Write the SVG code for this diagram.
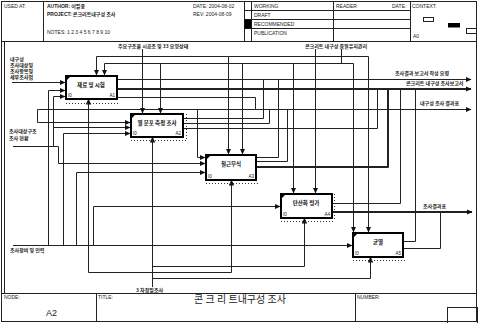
<svg xmlns="http://www.w3.org/2000/svg" width="478" height="323" viewBox="0 0 478 323">
<defs>
<marker id="ah" markerUnits="userSpaceOnUse" markerWidth="6" markerHeight="6" refX="5.5" refY="3" orient="auto"><path d="M0,0.3 L6,3 L0,5.7 z" fill="#111"/></marker>
<style>
.f{fill:none;stroke:#222;stroke-width:1}
.t{font-family:"Liberation Sans","Noto Sans CJK KR",sans-serif;font-size:5px;fill:#222}
.k{font-family:"Noto Sans CJK KR","Liberation Sans",sans-serif;font-size:5px;fill:#222;font-weight:bold}
.c{fill:none;stroke:#222;stroke-width:1;stroke-linejoin:round}
.th{stroke-width:2}
.a{marker-end:url(#ah)}
.box{fill:#fff;stroke:#000;stroke-width:2}
.bl{font-family:"Noto Sans CJK KR",sans-serif;font-size:5.5px;font-weight:bold;fill:#111;text-anchor:middle}
.nn{font-family:"Liberation Sans",sans-serif;font-size:4.5px;fill:#111}
.dot{fill:none;stroke:#333;stroke-width:1;stroke-dasharray:1 2}
</style>
</defs>
<rect width="478" height="323" fill="#fff"/>
<g id="frame">
<rect class="f" x="1.5" y="1.5" width="475" height="320"/>
<line class="f" x1="1" y1="41.5" x2="477" y2="41.5"/>
<line class="f" x1="43.5" y1="1" x2="43.5" y2="41.5"/>
<line class="f" x1="244.5" y1="1" x2="244.5" y2="41.5"/>
<line class="f" x1="251.5" y1="1" x2="251.5" y2="41.5"/>
<line class="f" x1="333.5" y1="1" x2="333.5" y2="41.5"/>
<line class="f" x1="410.5" y1="1" x2="410.5" y2="41.5"/>
<line class="f" x1="244" y1="10.5" x2="410" y2="10.5"/>
<line class="f" x1="244" y1="19.5" x2="410" y2="19.5"/>
<line class="f" x1="244" y1="28.5" x2="410" y2="28.5"/>
<rect x="244.5" y="19.5" width="7" height="9" fill="#000"/>
<text class="t" x="4" y="8">USED AT:</text>
<text class="k" x="47" y="8"><tspan class="t">AUTHOR:</tspan> 이필중</text>
<text class="k" x="47" y="16"><tspan class="t">PROJECT:</tspan> 콘크리트내구성 조사</text>
<text class="t" x="47" y="34">NOTES:  1  2  3  4  5  6  7  8  9  10</text>
<text class="t" x="193" y="8">DATE:  2004-08-02</text>
<text class="t" x="193" y="16">REV:    2004-08-09</text>
<text class="t" x="254" y="8">WORKING</text>
<text class="t" x="254" y="17">DRAFT</text>
<text class="t" x="254" y="26">RECOMMENDED</text>
<text class="t" x="254" y="35">PUBLICATION</text>
<text class="t" x="336" y="8">READER</text>
<text class="t" x="392" y="8">DATE:</text>
<text class="t" x="412" y="8">CONTEXT:</text>
<text class="t" x="413" y="38">A0</text>
<rect x="423.5" y="17.5" width="10" height="4" fill="#fff" stroke="#222" stroke-width="1"/>
<rect x="448" y="23" width="12" height="4.5" fill="#000"/>
<rect x="466.5" y="28.5" width="10" height="5" fill="#fff" stroke="#222" stroke-width="1"/>
<line class="f" x1="4.5" y1="41.5" x2="4.5" y2="293"/>
<line class="f" x1="1" y1="293.5" x2="477" y2="293.5"/>
<line class="f" x1="96.5" y1="293.5" x2="96.5" y2="322"/>
<line class="f" x1="355.5" y1="293.5" x2="355.5" y2="322"/>
<text class="t" x="4" y="299">NODE:</text>
<text x="46" y="316" font-family="Liberation Sans,sans-serif" font-size="9" fill="#222">A2</text>
<text class="t" x="98" y="299">TITLE:</text>
<text x="240" y="303" font-family="Noto Sans CJK KR,sans-serif" font-size="10" fill="#222" text-anchor="middle">콘 크 리 트내구성 조사</text>
<text class="t" x="357" y="299">NUMBER:</text>
<rect x="447.5" y="307.5" width="30" height="16" fill="none" stroke="#222" stroke-width="1"/>
</g>
<g id="connectors">
<path class="c a" d="M12 82.5 H65"/>
<path class="c a" d="M13 245.5 H352"/>
<path class="c a" d="M48.5 245 V90.5 H65"/>
<path class="c a" d="M63.5 245 V133.5 H130"/>
<path class="c a" d="M76.5 245 V172.5 H205"/>
<path class="c a" d="M93.5 245 V206.5 H280"/>
<path class="c a" d="M13 146.5 H53.5 V96.5 H65"/>
<path class="c a" d="M53.5 127.5 H130"/>
<path class="c a" d="M53 146.5 H58.5 V163.5 H205"/>
<path class="c a" d="M117 97.5 H255.5 V109.5 H471"/>
<path class="c a" d="M255.5 109.5 H37.5 V122.5 H130"/>
<path class="c a" d="M197.5 109.5 V157.5 H205"/>
<path class="c a" d="M117 79.5 H471"/>
<path class="c th a" d="M117 89 H471"/>
<path class="c" d="M183 118.5 H263.5 V79.5"/>
<path class="c" d="M183 123.5 H269.5 V109.5"/>
<path class="c" d="M183 128.5 H377.5 V89"/>
<path class="c" d="M256 157.5 H278.5 V79.5"/>
<path class="c" d="M256 161.5 H287.5 V109.5"/>
<path class="c th" d="M256 167 H388 V89"/>
<path class="c" d="M332 203.5 H400.5 V89"/>
<path class="c th a" d="M332 212 H472"/>
<path class="c" d="M403 241.5 H415.5 V89"/>
<path class="c" d="M403 248.5 H440.5 V212"/>
<path class="c a" d="M142.5 49 V113"/>
<path class="c" d="M228.5 56.5 H96.5"/>
<path class="c a" d="M96.5 56.5 V75"/>
<path class="c a" d="M228.5 56.5 V154"/>
<path class="c a" d="M228.5 56.5 H368.5 V232"/>
<path class="c" d="M341.5 49 V63.5"/>
<path class="c a" d="M353.5 63.5 V232"/>
<path class="c" d="M104.5 63.5 H353.5"/>
<path class="c a" d="M104.5 63.5 V75"/>
<path class="c a" d="M160.5 63.5 V113"/>
<path class="c a" d="M242.5 63.5 V154"/>
<path class="c a" d="M293.5 63.5 V193"/>
<path class="c a" d="M315.5 49 V193"/>
<path class="c a" d="M152.5 287 V137"/>
<path class="c a" d="M152.5 266.5 H304.5 V218"/>
<path class="c a" d="M152.5 278.5 H370.5 V257"/>
<path class="c" d="M88.5 272.5 H231.5"/>
<path class="c a" d="M88.5 272.5 V99"/>
<path class="c a" d="M231.5 272.5 V180"/>
</g>
<g id="labels">
<text class="k" x="10" y="61">내구성</text>
<text class="k" x="10" y="67">조사대상및</text>
<text class="k" x="10" y="73">조사항목및</text>
<text class="k" x="10" y="79">세부조사법</text>
<text class="k" x="9" y="133">조사대상구조</text>
<text class="k" x="9" y="140">조사 현황</text>
<text class="k" x="10" y="252">조사장비 및 인력</text>
<text class="k" x="118" y="48">주요구조물 시공조 및 33 요양상태</text>
<text class="k" x="305" y="48">콘크리트 내구성 품질유지관리</text>
<text class="k" x="395" y="75">조사결과 보고서 작성 요령</text>
<text class="k" x="406" y="85">콘크리트 내구성 조사보고서</text>
<text class="k" x="420" y="105">내구성 조사 결과표</text>
<text class="k" x="423" y="208">조사결과표</text>
<text class="k" x="136" y="292">3 차정밀조사</text>
</g>
<g id="A1">
<rect class="box" x="66" y="76" width="51" height="23"/>
<polygon points="65,75 72,75 65,82" fill="#000"/>
<text class="bl" x="91" y="87">재료 및 시험</text>
<text class="nn" x="68" y="97">I0</text><text class="nn" x="115" y="97" text-anchor="end">A1</text>
<line class="dot" x1="66" y1="103.5" x2="120" y2="103.5"/>
</g>
<g id="A2">
<rect class="box" x="131" y="114" width="52" height="23"/>
<polygon points="130,113 137,113 130,120" fill="#000"/>
<text class="bl" x="157" y="125">열 분포 측정 조사</text>
<text class="nn" x="133" y="135">I0</text><text class="nn" x="181" y="135" text-anchor="end">A2</text>
<line class="dot" x1="131" y1="140.5" x2="187" y2="140.5"/>
<line class="dot" x1="186.5" y1="114" x2="186.5" y2="140"/>
</g>
<g id="A3">
<rect class="box" x="206" y="155" width="50" height="25"/>
<polygon points="205,154 212,154 205,161" fill="#000"/>
<text class="bl" x="231" y="166">철근부식</text>
<text class="nn" x="208" y="178">I0</text><text class="nn" x="254" y="178" text-anchor="end">A3</text>
<line class="dot" x1="206" y1="183.5" x2="259" y2="183.5"/>
</g>
<g id="A4">
<rect class="box" x="281" y="194" width="51" height="24"/>
<polygon points="280,193 287,193 280,200" fill="#000"/>
<text class="bl" x="306" y="205">탄산화 평가</text>
<text class="nn" x="283" y="216">I0</text><text class="nn" x="330" y="216" text-anchor="end">A4</text>
<line class="dot" x1="281" y1="221.5" x2="335" y2="221.5"/>
<line class="dot" x1="334.5" y1="194" x2="334.5" y2="221"/>
</g>
<g id="A5">
<rect class="box" x="353" y="233" width="50" height="24"/>
<polygon points="352,232 359,232 352,239" fill="#000"/>
<text class="bl" x="378" y="244">균열</text>
<text class="nn" x="355" y="255">I0</text><text class="nn" x="401" y="255" text-anchor="end">A5</text>
<line class="dot" x1="353" y1="260.5" x2="406" y2="260.5"/>
</g>
</svg>
